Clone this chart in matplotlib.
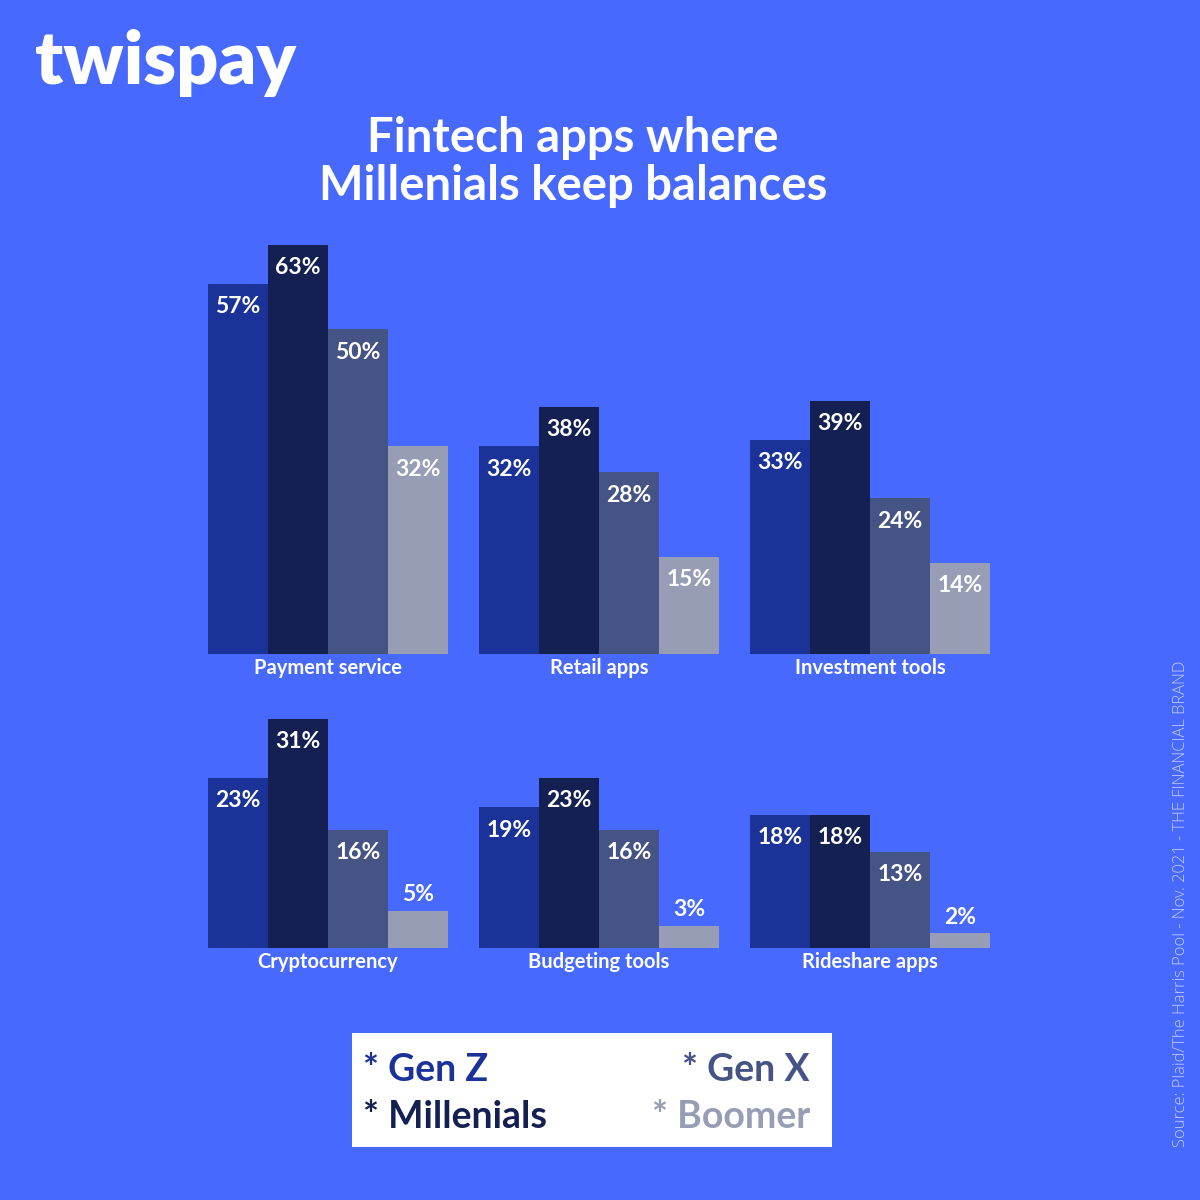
import numpy as np
import matplotlib.pyplot as plt
from matplotlib.patches import Rectangle

# ---------------- data ----------------
categories = ['Payment service', 'Retail apps', 'Investment tools',
              'Cryptocurrency', 'Budgeting tools', 'Rideshare apps']
gen_z      = [57, 32, 33, 23, 19, 18]
millenials = [63, 38, 39, 31, 23, 18]
gen_x      = [50, 28, 24, 16, 16, 13]
boomer     = [32, 15, 14, 5, 3, 2]
series_names = ['Gen Z', 'Millenials', 'Gen X', 'Boomer']

BG = '#4869fd'
colors = ['#1b3399', '#142052', '#465385', '#979db5']
FONT = 'Lato'

fig = plt.figure(figsize=(12, 12), dpi=100, facecolor=BG)

W, H = 1200, 1200
def fx(px): return px / W
def fy(py): return 1 - py / H

# panel left edges in px, two rows
lefts = [208, 479, 750]
rows = [dict(base=654, height=420, pxper=6.5),
        dict(base=948, height=250, pxper=7.4)]

data = np.array([gen_z, millenials, gen_x, boomer])

for i, cat in enumerate(categories):
    r = rows[i // 3]
    left = lefts[i % 3]
    ax = fig.add_axes([fx(left), fy(r['base']), fx(240), r['height'] / H])
    ax.set_facecolor('none')
    ymax = r['height'] / r['pxper']
    ax.set_xlim(0, 4)
    ax.set_ylim(0, ymax)
    vals = data[:, i]
    x = np.arange(4) + 0.5
    ax.bar(x, vals, width=1.0, color=colors, edgecolor='none', clip_on=False)
    for xi, v in zip(x, vals):
        if v >= 10:
            ax.annotate(f'{v}%', (xi, v), xytext=(0, -9), textcoords='offset points',
                        ha='center', va='top', color='white', fontsize=16.5,
                        fontweight='bold', family=FONT, annotation_clip=False)
        else:
            ax.annotate(f'{v}%', (xi, v), xytext=(0, 4), textcoords='offset points',
                        ha='center', va='bottom', color='white', fontsize=16.5,
                        fontweight='bold', family=FONT, annotation_clip=False)
    ax.set_xticks([2])
    ax.set_xticklabels([cat], color='white', fontsize=14.5, fontweight='bold', family=FONT)
    ax.tick_params(axis='x', length=0, pad=3)
    ax.set_yticks([])
    for s in ax.spines.values():
        s.set_visible(False)

# logo
fig.text(fx(35), fy(63), 'twispay', color='white', fontsize=53, fontweight='heavy',
         family=FONT, ha='left', va='center')

# title
fig.text(fx(573), fy(162), 'Fintech apps where\nMillenials keep balances', color='white',
         fontsize=34, fontweight='bold', family=FONT, ha='center', va='center',
         linespacing=1.1)

# legend box
fig.patches.append(Rectangle((fx(352), fy(1147)), fx(480), 114 / H,
                             transform=fig.transFigure, facecolor='white', edgecolor='none'))
leg_pos = [(363, 1070, 'left'), (363, 1117, 'left'), (810, 1070, 'right'), (810, 1117, 'right')]
for name, c, (px, py, ha) in zip(series_names, colors, leg_pos):
    fig.text(fx(px), fy(py), '* ' + name, color=c, fontsize=27, fontweight='bold',
             family=FONT, ha=ha, va='center')

# source
fig.text(fx(1181), fy(904), 'Source: Plaid/The Harris Pool - Nov. 2021 - THE FINANCIAL BRAND',
         color='#d4dbff', fontsize=11.9, family='Open Sans', fontweight='light',
         rotation=90, ha='center', va='center', alpha=0.85)

fig.savefig('out.png', dpi=100, facecolor=BG)
